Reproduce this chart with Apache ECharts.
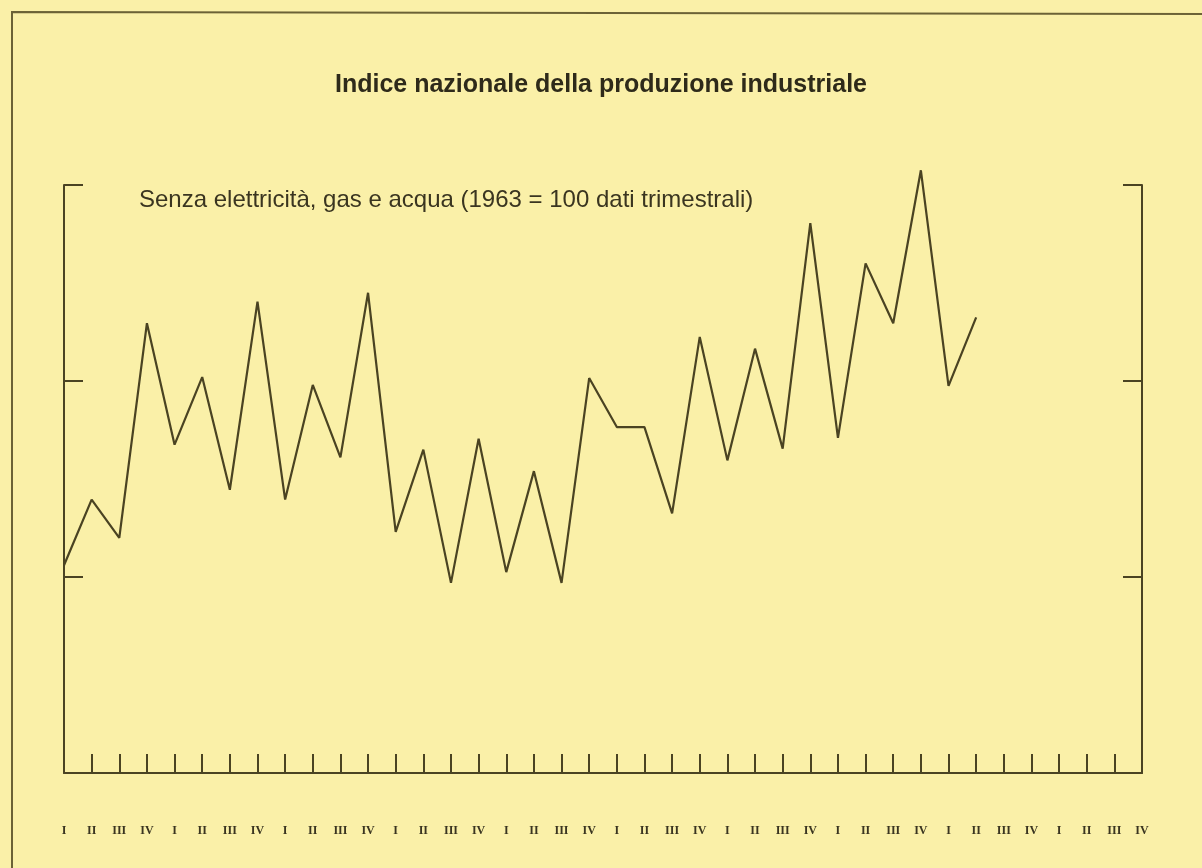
<!DOCTYPE html>
<html>
<head>
<meta charset="utf-8">
<title>Indice nazionale della produzione industriale</title>
<script src="https://cdn.jsdelivr.net/npm/echarts@6/dist/echarts.min.js"></script>
<style>
  html, body { margin: 0; padding: 0; background: #faf0a8; }
  #chart { width: 1202px; height: 868px; }
</style>
</head>
<body>
<div id="chart"></div>
<script>
// trimestri: 10 anni x 4 trimestri
var quarterNames = ['I', 'II', 'III', 'IV'];
var quarters = [];
for (var y = 0; y < 10; y++) {
  for (var q = 0; q < 4; q++) quarters.push(quarterNames[q]);
}

// indice (1963 = 100); gli ultimi trimestri sono vuoti
var indexValues = [
  91.2, 97.9, 94.0, 115.9,
  103.5, 110.4, 98.9, 118.1,
  97.9, 109.6, 102.2, 119.0,
  94.6, 103.0, 89.4, 104.1,
  90.5, 100.8, 89.4, 110.3,
  105.3, 105.3, 96.5, 114.5,
  101.9, 113.3, 103.1, 126.1,
  104.2, 122.0, 115.9, 131.5,
  109.5, 116.5, null, null,
  null, null, null, null
];

var titleText = 'Indice nazionale della produzione industriale';
var subText = 'Senza elettricità, gas e acqua (1963 = 100 dati trimestrali)';

var ink = '#4a4322';

var chart = echarts.init(document.getElementById('chart'));
var option = {
  backgroundColor: '#faf0a8',
  animation: false,
  title: [{
    text: titleText,
    left: 'center',
    top: 68,
    textStyle: {
      fontFamily: 'Liberation Sans',
      fontWeight: 'bold',
      fontSize: 25,
      color: '#2e2a1a'
    }
  }, {
    text: subText,
    left: 134,
    top: 183,
    textStyle: {
      fontFamily: 'Liberation Sans',
      fontWeight: 'normal',
      fontSize: 24,
      color: '#3a3520'
    }
  }],
  grid: {
    left: 64,
    right: 60,
    top: 185,
    bottom: 95
  },
  xAxis: {
    type: 'category',
    data: quarters,
    boundaryGap: false,
    axisLine: { lineStyle: { color: ink, width: 2 } },
    axisTick: {
      inside: true,
      length: 19,
      interval: 0,
      lineStyle: { color: ink, width: 2 }
    },
    axisLabel: {
      interval: 0,
      margin: 52,
      fontFamily: 'Liberation Serif',
      fontWeight: 'bold',
      fontSize: 12,
      color: '#3a3520'
    },
    splitLine: { show: false }
  },
  yAxis: [{
    type: 'value',
    min: 70,
    max: 130,
    interval: 20,
    position: 'left',
    axisLine: { show: true, lineStyle: { color: ink, width: 2 } },
    axisTick: { show: true, inside: true, length: 19, lineStyle: { color: ink, width: 2 } },
    axisLabel: { show: false },
    splitLine: { show: false }
  }, {
    type: 'value',
    min: 70,
    max: 130,
    interval: 20,
    position: 'right',
    axisLine: { show: true, lineStyle: { color: ink, width: 2 } },
    axisTick: { show: true, inside: true, length: 19, lineStyle: { color: ink, width: 2 } },
    axisLabel: { show: false },
    splitLine: { show: false }
  }],
  graphic: [{
    type: 'polyline',
    silent: true,
    shape: { points: [[12, 880], [12, 12], [1210, 14]] },
    style: { stroke: '#6b6236', lineWidth: 2, fill: null }
  }],
  series: [{
    name: 'Indice',
    type: 'line',
    data: indexValues,
    showSymbol: false,
    connectNulls: false,
    clip: false,
    lineStyle: { color: ink, width: 2.2 }
  }]
};
chart.setOption(option);
</script>
</body>
</html>
